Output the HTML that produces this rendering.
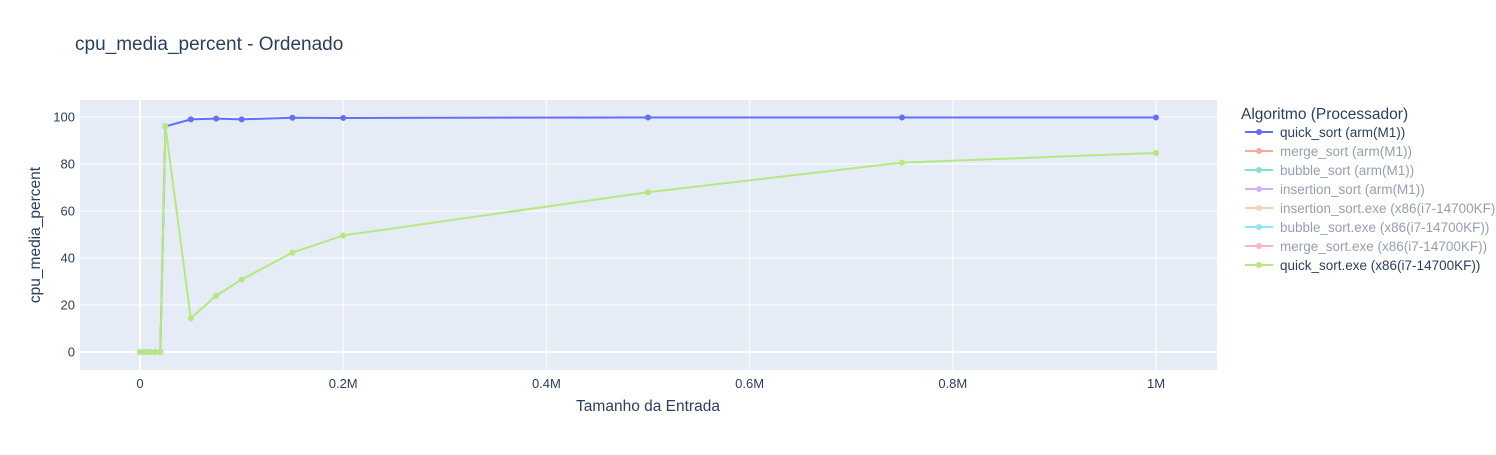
<!DOCTYPE html>
<html><head><meta charset="utf-8"><style>
body{margin:0;background:#fff;font-family:"Liberation Sans",Arial,sans-serif;}
svg text{font-family:"Liberation Sans",Arial,sans-serif;}
</style></head><body>
<svg id="chart" width="1496" height="450" xmlns="http://www.w3.org/2000/svg">
<rect width="1496" height="450" fill="#fff"/>
<text x="75" y="50" font-size="19" fill="#2a3f5f">cpu_media_percent - Ordenado</text>
<rect x="80" y="100" width="1137" height="270" fill="#e5ecf6"/>
<g id="grid"></g><g id="series"></g><g id="legend"></g>
<text x="648" y="411" font-size="15.5" fill="#2a3f5f" text-anchor="middle">Tamanho da Entrada</text>
<text transform="translate(40,235) rotate(-90)" font-size="15.5" fill="#2a3f5f" text-anchor="middle">cpu_media_percent</text>
</svg>
<script>
const xValues=[100,5000,10000,15000,20000,25000,50000,75000,100000,150000,200000,500000,750000,1000000];
const quickArm=[0,0,0,0,0,96,99,99.3,99,99.7,99.6,99.8,99.8,99.8];
const quickX86=[0,0,0,0,0,96,14.3,24,30.8,42.3,49.6,68,80.6,84.7];
const xTicks=[0,200000,400000,600000,800000,1000000];
const xTickLabels=["0","0.2M","0.4M","0.6M","0.8M","1M"];
const yTicks=[0,20,40,60,80,100];
const legendNames=["quick_sort (arm(M1))","merge_sort (arm(M1))","bubble_sort (arm(M1))","insertion_sort (arm(M1))","insertion_sort.exe (x86(i7-14700KF))","bubble_sort.exe (x86(i7-14700KF))","merge_sort.exe (x86(i7-14700KF))","quick_sort.exe (x86(i7-14700KF))"];
const legendColors=["#636efa","#ef553b","#00cc96","#ab63fa","#ffa15a","#19d3f3","#ff6692","#b6e880"];
const legendVisible=[true,false,false,false,false,false,false,true];
const NS="http://www.w3.org/2000/svg";
const xs=v=>140+v*1016/1000000;
const ys=v=>352-v*2.35;
function mk(tag,attrs,parent){const e=document.createElementNS(NS,tag);for(const k in attrs)e.setAttribute(k,attrs[k]);parent.appendChild(e);return e;}
const grid=document.getElementById('grid');
yTicks.forEach(t=>{
 const l=mk('line',{x1:80,x2:1217,y1:ys(t),y2:ys(t),stroke:'#fff','stroke-width':t===0?2:1},grid);
 
 
 const tx=mk('text',{x:75,y:ys(t)+4.5,'font-size':13,fill:'#2a3f5f','text-anchor':'end'},grid);tx.textContent=t;
 
 
});
xTicks.forEach((t,i)=>{
 const l=mk('line',{x1:xs(t),x2:xs(t),y1:100,y2:370,stroke:'#fff','stroke-width':t===0?2:1},grid);
 
 
 const tx=mk('text',{x:xs(t),y:388,'font-size':13,fill:'#2a3f5f','text-anchor':'middle'},grid);tx.textContent=xTickLabels[i];
 
 
});
const ser=document.getElementById('series');
[[quickArm,'#636efa','series-quick-sort-arm'],[quickX86,'#b6e880','series-quick-sort-x86']].forEach(([vals,c,n])=>{
 const g=mk('g',{},ser);
 
 
 mk('polyline',{points:vals.map((v,i)=>xs(xValues[i])+','+ys(v)).join(' '),fill:'none',stroke:c,'stroke-width':2},g);
 vals.forEach((v,i)=>{const p=mk('circle',{cx:xs(xValues[i]),cy:ys(v),r:3,fill:c},g);
  
  });
});
const lg=document.getElementById('legend');
const lt=mk('text',{x:1241,y:119,'font-size':15.5,fill:'#2a3f5f'},lg);lt.textContent='Algoritmo (Processador)';


legendNames.forEach((n,i)=>{
 const y=132+i*19;
 const g=mk('g',{opacity:legendVisible[i]?1:0.5},lg);
 
 
 mk('line',{x1:1245,x2:1273,y1:y,y2:y,stroke:legendColors[i],'stroke-width':2},g);
 mk('circle',{cx:1259,cy:y,r:3,fill:legendColors[i]},g);
 const t=mk('text',{x:1280,y:y+5,'font-size':13.5,fill:'#2a3f5f'},g);t.textContent=n;
});
</script>
</body></html>
